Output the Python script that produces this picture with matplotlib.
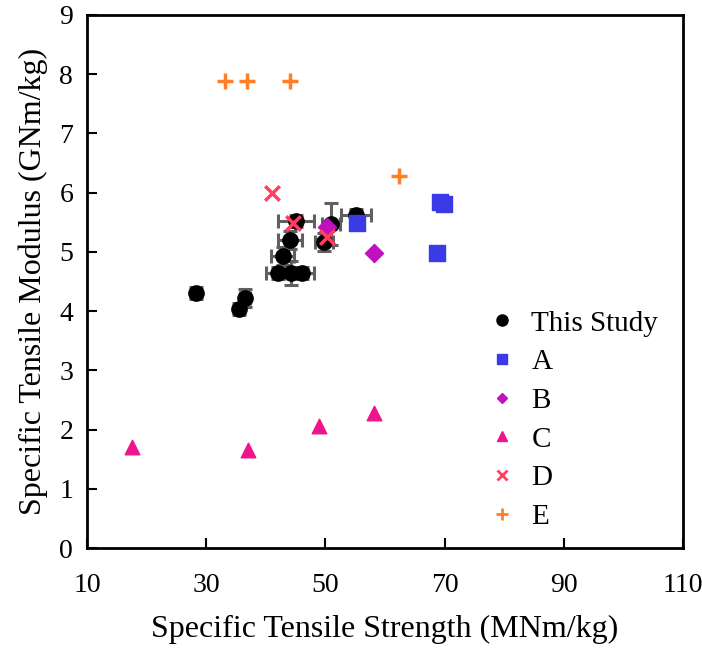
import matplotlib.pyplot as plt
from matplotlib.lines import Line2D

# This Study: specific strength (MNm/kg), specific modulus (GNm/kg) with error bars
study_x = [28.3, 36.5, 35.5, 42.0, 44.3, 46.0, 42.8, 44.0, 45.1, 49.8, 51.0, 55.1]
study_y = [4.30, 4.22, 4.04, 4.65, 4.65, 4.65, 4.93, 5.20, 5.52, 5.17, 5.47, 5.62]
study_xerr = [0.5, 0.8, 0.5, 2.0, 2.0, 2.0, 2.0, 2.0, 3.0, 1.5, 1.5, 2.5]
study_yerr = [0.10, 0.15, 0.10, 0.10, 0.20, 0.10, 0.15, 0.15, 0.10, 0.15, 0.35, 0.10]

a_x = [55.3, 69.2, 69.9, 68.8]
a_y = [5.49, 5.84, 5.81, 4.98]

b_x = [50.2, 58.2]
b_y = [5.42, 4.98]

c_x = [17.5, 37.0, 48.9, 58.2]
c_y = [1.70, 1.65, 2.07, 2.29]

d_x = [41.0, 44.5, 50.2]
d_y = [6.00, 5.48, 5.25]

e_x = [33.2, 36.8, 44.0, 62.3]
e_y = [7.88, 7.88, 7.88, 6.28]

plt.rcParams['font.family'] = ['Liberation Serif', 'DejaVu Serif']

fig = plt.figure(figsize=(7.02, 6.48), dpi=100)
ax = fig.add_axes([0.124, 0.154, 0.849, 0.823])

ax.errorbar(study_x, study_y, xerr=study_xerr, yerr=study_yerr, fmt='o',
            color='black', ecolor='#606060', elinewidth=2.2, capsize=5,
            capthick=2.2, markersize=11, zorder=3)
ax.scatter(a_x, a_y, marker='s', s=120, color='#3a3ae6', zorder=4)
ax.scatter(b_x, b_y, marker='D', s=85, color='#c010c0', zorder=4)
ax.scatter(c_x, c_y, marker='^', s=110, color='#f0148c', zorder=4)
ax.scatter(d_x, d_y, marker='x', s=110, color='#ff4060', linewidths=2.5, zorder=5)
ax.scatter(e_x, e_y, marker='+', s=140, color='#ff7f27', linewidths=2.5, zorder=4)

ax.set_xlim(10, 110)
ax.set_ylim(0, 9)
ax.set_xticks(range(10, 111, 20))
ax.set_yticks(range(0, 10))
ax.tick_params(direction='in', length=7, width=1.5, labelsize=20)
ax.tick_params(axis='x', pad=18)
ax.tick_params(axis='y', pad=10)
for s in ax.spines.values():
    s.set_linewidth(2)

ax.set_xlabel('Specific Tensile Strength (MNm/kg)', fontsize=23, labelpad=12)
ax.set_ylabel('Specific Tensile Modulus (GNm/kg)', fontsize=23, labelpad=8)

handles = [
    Line2D([], [], ls='', marker='o', color='black', markersize=8, label='This Study'),
    Line2D([], [], ls='', marker='s', color='#3a3ae6', markersize=7, label='A'),
    Line2D([], [], ls='', marker='D', color='#c010c0', markersize=5.5, label='B'),
    Line2D([], [], ls='', marker='^', color='#f0148c', markersize=7, label='C'),
    Line2D([], [], ls='', marker='x', color='#ff4060', markersize=7, mew=2, label='D'),
    Line2D([], [], ls='', marker='+', color='#ff7f27', markersize=8, mew=2, label='E'),
]
ax.legend(handles=handles, loc='lower left', bbox_to_anchor=(0.628, -0.015),
          frameon=False, fontsize=21, handletextpad=0.5,
          labelspacing=0.42, handlelength=1.0)

plt.savefig('out.png', dpi=100)
